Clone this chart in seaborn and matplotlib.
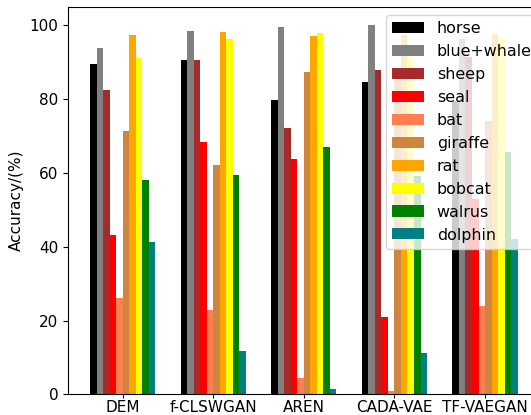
import matplotlib
matplotlib.use("Agg")
import matplotlib.pyplot as plt
import seaborn as sns
import pandas as pd

methods = ["DEM", "f-CLSWGAN", "AREN", "CADA-VAE", "TF-VAEGAN"]
classes = ["horse", "blue+whale", "sheep", "seal", "bat",
           "giraffe", "rat", "bobcat", "walrus", "dolphin"]
colors = ["black", "gray", "brown", "red", "coral",
          "peru", "orange", "yellow", "green", "teal"]

horse = [89.5, 90.6, 79.7, 84.6, 79.5]
blue_whale = [93.8, 98.4, 99.5, 100.0, 96.4]
sheep = [82.4, 90.6, 72.1, 87.8, 91.4]
seal = [43.1, 68.3, 63.7, 21.0, 53.0]
bat = [26.0, 22.8, 4.4, 0.9, 23.9]
giraffe = [71.5, 62.1, 87.3, 85.6, 74.0]
rat = [97.3, 98.1, 97.1, 97.3, 97.6]
bobcat = [91.1, 96.2, 97.9, 91.5, 96.7]
walrus = [58.0, 59.4, 67.0, 59.1, 65.8]
dolphin = [41.2, 11.7, 1.4, 11.3, 42.0]

series = [horse, blue_whale, sheep, seal, bat,
          giraffe, rat, bobcat, walrus, dolphin]

rows = []
for cls, vals in zip(classes, series):
    for m, v in zip(methods, vals):
        rows.append({"method": m, "class": cls, "acc": v})
df = pd.DataFrame(rows)

plt.rcParams["font.family"] = ["DejaVu Sans"]
plt.rcParams["font.size"] = 11

fig = plt.figure(figsize=(5.31, 4.15), dpi=100)
ax = fig.add_axes([68.3 / 531, 20.7 / 415, 472 / 531, 387.3 / 415])

sns.barplot(data=df, x="method", y="acc", hue="class",
            order=methods, hue_order=classes, palette=colors,
            saturation=1, errorbar=None, width=0.72, linewidth=0, ax=ax)

ax.set_xlim(-0.6, 4.61)
ax.set_ylim(0, 105)
ax.set_xlabel("")
ax.set_ylabel("Accuracy/(%)", fontsize=11)
ax.tick_params(axis="y", labelsize=11)
ax.tick_params(axis="x", labelsize=11, length=2.7, pad=1.5)
ax.legend(loc="upper right", bbox_to_anchor=(1.012, 1.0), fontsize=11.4,
          labelspacing=0.5, framealpha=0.8)

fig.savefig("out.png", dpi=100)
